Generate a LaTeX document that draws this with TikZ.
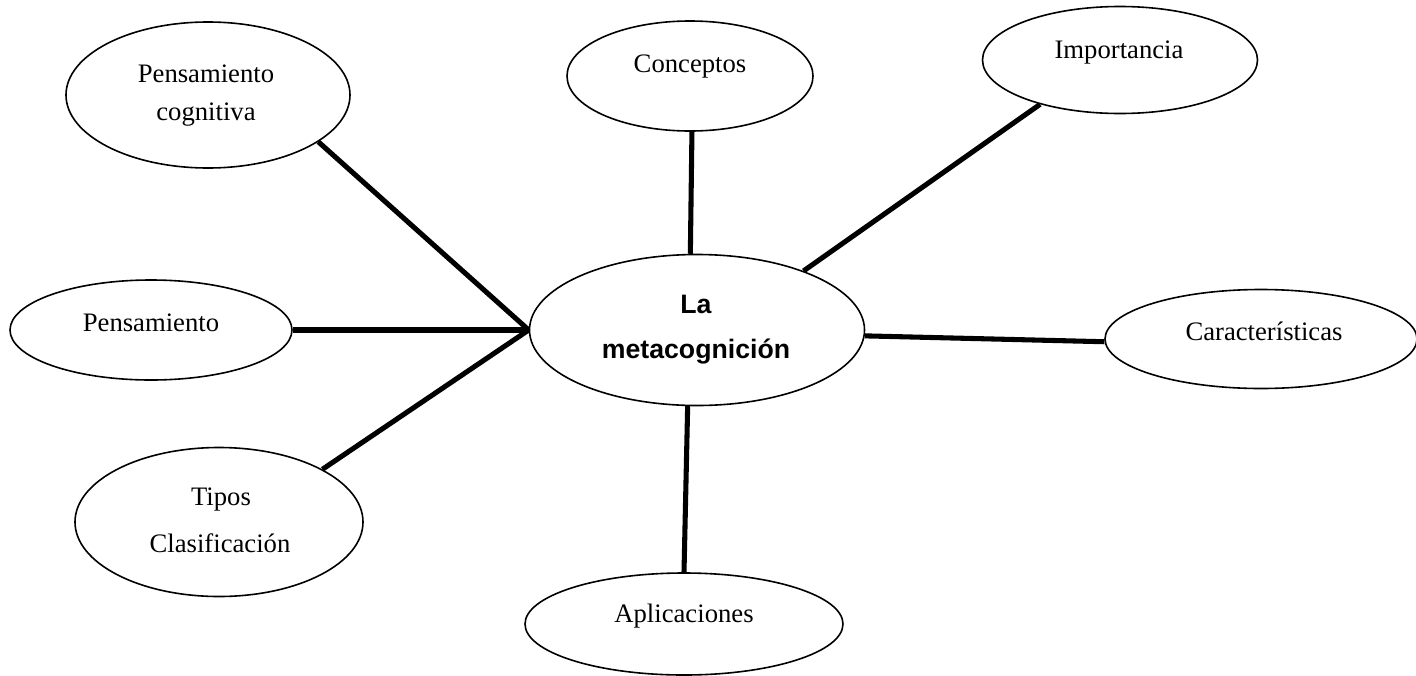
\documentclass[tikz,border=0pt]{standalone}
\usepackage{fontspec}
\setmainfont{Liberation Serif}
\newfontfamily\boldsans[BoldFont={Liberation Sans Bold}]{Liberation Sans}
\usetikzlibrary{shapes.geometric,backgrounds}
\tikzset{
  ell/.style={ellipse, draw=black, line width=1.2pt, fill=white, inner sep=0pt},
  txt/.style={anchor=base, inner sep=0pt, font=\fontsize{20pt}{24pt}\selectfont},
  maintxt/.style={anchor=base, inner sep=0pt, font=\fontsize{20pt}{24pt}\selectfont\boldsans\bfseries},
  link/.style={line width=3.8pt, black}
}
\begin{document}
\begin{tikzpicture}[x=0.75pt,y=-0.75pt]
\useasboundingbox (0,0) rectangle (1416,675);
% ellipses
\node[ell, minimum width=213pt, minimum height=109.5pt] (pc) at (208,95) {};
\node[ell, minimum width=184.5pt, minimum height=82.5pt] (conc) at (690,76) {};
\node[ell, minimum width=206.25pt, minimum height=80.25pt] (imp) at (1120,60) {};
\node[ell, minimum width=211.5pt, minimum height=75pt] (pen) at (151,330) {};
\node[ell, minimum width=251.25pt, minimum height=113.25pt] (main) at (697,330) {};
\node[ell, minimum width=234pt, minimum height=74.25pt] (car) at (1261,339) {};
\node[ell, minimum width=216pt, minimum height=111.75pt] (tip) at (219,522) {};
\node[ell, minimum width=238.5pt, minimum height=76.5pt] (apl) at (684,624) {};
% texts
\node[txt] (pc1) at (206,82) {Pensamiento};
\node[txt] (pc2) at (206,120) {cognitiva};
\node[txt] (conct) at (690,72) {Conceptos};
\node[txt] (impt) at (1119,58) {Importancia};
\node[txt] (pent) at (151,331) {Pensamiento};
\node[maintxt] (m1) at (696,313) {La};
\node[maintxt] (m2) at (696,358) {metacognición};
\node[txt] (cart) at (1264,340) {Características};
\node[txt] (tip1) at (221,505) {Tipos};
\node[txt] (tip2) at (220,552) {Clasificación};
\node[txt] (aplt) at (684,622) {Aplicaciones};
% connectors
\begin{pgfonlayer}{background}
\draw[link] (pc.337) -- (main.west);
\draw[link] (pen.east) -- (main.west);
\draw[link] (tip.27) -- (main.west);
\draw[link] (conc.272) -- (main.95);
\draw[link] (imp.209) -- (main.29.7);
\draw[link] (main.358) -- (car.181);
\draw[link] (main.263) -- (apl.north);
\end{pgfonlayer}
\end{tikzpicture}
\end{document}
